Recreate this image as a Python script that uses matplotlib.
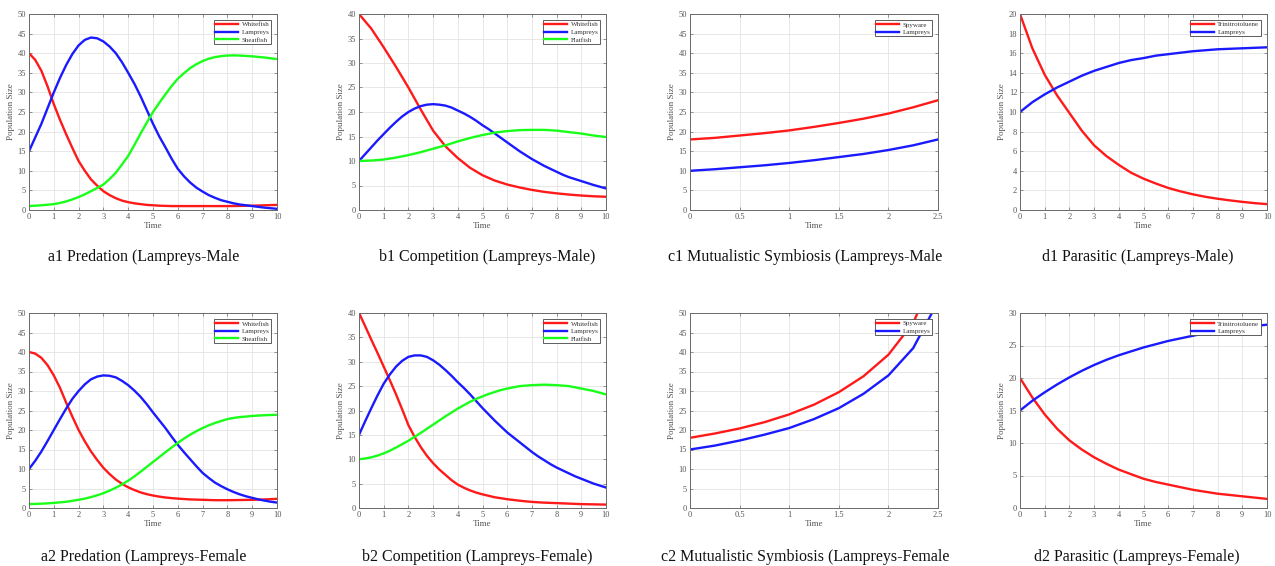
import numpy as np
import matplotlib
matplotlib.use("Agg")
import matplotlib.pyplot as plt

# ---- time grids ----
t_half = np.arange(0, 10.01, 0.5)
t_quarter = np.arange(0, 10.001, 0.25)
t_c = np.arange(0, 2.51, 0.25)

# ---- a1 Predation (male), sampled every 0.25 ----
a1_whitefish = [40, 38.3, 35.5, 31.5, 27, 23, 19.3, 15.8, 12.5, 10, 7.8, 6.2, 4.8, 3.8, 3.0, 2.4, 2.0,
                1.7, 1.5, 1.3, 1.2, 1.1, 1.05, 1.0, 1.0, 1.0, 1.0, 1.0, 1.0, 1.0, 1.0, 1.0, 1.0,
                1.02, 1.05, 1.08, 1.1, 1.15, 1.2, 1.25, 1.3]
a1_lampreys = [15, 18.5, 22, 26, 30, 33.7, 37, 39.8, 42, 43.4, 44, 43.8, 43, 41.7, 40, 37.7, 35,
               32.2, 29, 25.5, 22, 18.8, 16, 13.1, 10.5, 8.6, 7, 5.7, 4.7, 3.8, 3.1, 2.5, 2.1,
               1.7, 1.4, 1.2, 1.0, 0.8, 0.6, 0.45, 0.3]
a1_sheatfish = [1, 1.1, 1.2, 1.35, 1.5, 1.8, 2.2, 2.7, 3.3, 4.0, 4.8, 5.6, 6.5, 7.9, 9.5, 11.6, 13.8,
                16.6, 19.5, 22.3, 25, 27.3, 29.5, 31.6, 33.5, 34.9, 36.2, 37.2, 38, 38.6, 39, 39.25,
                39.4, 39.45, 39.4, 39.3, 39.2, 39.05, 38.9, 38.7, 38.5]

# ---- b1 Competition (male) ----
b1_whitefish = [40, 37, 33.2, 29.2, 25, 20.5, 16.2, 13, 10.6, 8.6, 7.1, 6.0, 5.2, 4.6, 4.1, 3.7, 3.4,
                3.15, 2.95, 2.8, 2.7]
b1_lampreys = [10, 11.4, 12.8, 14.2, 15.5, 16.8, 18, 19.1, 20, 20.7, 21.2, 21.5, 21.6, 21.5, 21.3,
               20.9, 20.3, 19.7, 19, 18.2, 17.3, 16.5, 15.6, 14.7, 13.8, 12.9, 12, 11.2, 10.4, 9.7,
               9, 8.4, 7.8, 7.2, 6.7, 6.3, 5.9, 5.5, 5.1, 4.75, 4.4]
b1_flatfish = [10, 10.1, 10.3, 10.7, 11.2, 11.8, 12.5, 13.2, 14, 14.7, 15.3, 15.8, 16.1, 16.3, 16.35,
               16.35, 16.2, 15.9, 15.6, 15.2, 14.9]

# ---- c1 Mutualistic symbiosis (male) ----
c1_spyware = [18, 18.4, 19, 19.6, 20.3, 21.2, 22.2, 23.3, 24.6, 26.2, 28]
c1_lampreys = [10, 10.4, 10.9, 11.4, 12, 12.7, 13.5, 14.3, 15.3, 16.5, 18]

# ---- d1 Parasitic (male) ----
d1_tnt = [20, 16.5, 13.8, 11.7, 9.9, 8.1, 6.6, 5.5, 4.6, 3.8, 3.2, 2.7, 2.25, 1.9, 1.6, 1.35, 1.15,
          0.98, 0.83, 0.7, 0.6]
d1_lampreys = [10, 11, 11.8, 12.5, 13.1, 13.7, 14.2, 14.6, 15.0, 15.3, 15.5, 15.75, 15.9, 16.05, 16.2,
               16.3, 16.4, 16.45, 16.5, 16.55, 16.6]

# ---- a2 Predation (female), sampled every 0.25 ----
a2_whitefish = [40, 39.6, 38.5, 36.6, 34, 30.8, 27, 23.4, 20, 17.1, 14.5, 12.3, 10.3, 8.7, 7.3, 6.2,
                5.3, 4.6, 4.0, 3.55, 3.2, 2.92, 2.7, 2.53, 2.4, 2.3, 2.2, 2.15, 2.1, 2.05, 2.0, 2.0,
                2.0, 2.02, 2.05, 2.07, 2.1, 2.15, 2.2, 2.27, 2.35]
a2_lampreys = [10, 12.1, 14.5, 17.2, 20, 22.8, 25.5, 28, 30, 31.7, 33, 33.7, 34, 33.9, 33.5, 32.6,
               31.5, 30.1, 28.5, 26.6, 24.5, 22.5, 20.5, 18.3, 16.2, 14.3, 12.5, 10.7, 9, 7.7, 6.5,
               5.6, 4.8, 4.1, 3.5, 3.0, 2.6, 2.2, 1.9, 1.6, 1.4]
a2_sheatfish = [1, 1.05, 1.1, 1.2, 1.3, 1.45, 1.6, 1.85, 2.1, 2.4, 2.8, 3.25, 3.8, 4.45, 5.2, 6.05,
                7, 8.1, 9.3, 10.55, 11.8, 13.05, 14.3, 15.5, 16.7, 17.8, 18.8, 19.7, 20.5, 21.2,
                21.8, 22.3, 22.8, 23.1, 23.3, 23.45, 23.6, 23.7, 23.8, 23.85, 23.9]

# ---- b2 Competition (female), sampled every 0.25 ----
b2_whitefish = [40, 37.3, 34.5, 31.8, 29, 26.2, 23.3, 20.2, 17, 14.6, 12.5, 10.7, 9.2, 7.9, 6.8,
                5.7, 4.8, 4.15, 3.6, 3.15, 2.8, 2.5, 2.2, 2.0, 1.8, 1.65, 1.5, 1.37, 1.25, 1.17,
                1.1, 1.05, 1.0, 0.95, 0.9, 0.85, 0.8, 0.77, 0.75, 0.72, 0.7]
b2_lampreys = [15, 17.8, 20.5, 23.1, 25.5, 27.4, 29, 30.2, 31, 31.3, 31.3, 31, 30.3, 29.4, 28.3,
               27.1, 25.8, 24.6, 23.3, 21.9, 20.5, 19.2, 17.9, 16.7, 15.5, 14.5, 13.5, 12.5, 11.5,
               10.6, 9.8, 9.0, 8.3, 7.7, 7.1, 6.5, 6.0, 5.5, 5.0, 4.6, 4.2]
b2_flatfish = [10, 10.15, 10.4, 10.75, 11.2, 11.75, 12.4, 13.1, 13.8, 14.6, 15.4, 16.25, 17.1, 17.95,
               18.8, 19.6, 20.4, 21.1, 21.8, 22.4, 22.9, 23.4, 23.8, 24.2, 24.5, 24.75, 25, 25.1,
               25.2, 25.25, 25.3, 25.25, 25.2, 25.1, 25, 24.75, 24.5, 24.25, 24, 23.65, 23.3]

# ---- c2 Mutualistic symbiosis (female) ----
c2_t_spyware = [0, 0.25, 0.5, 0.75, 1.0, 1.25, 1.5, 1.75, 2.0, 2.25, 2.32]
c2_spyware = [18, 19.1, 20.4, 22, 24, 26.5, 29.7, 33.8, 39.3, 47.5, 51.5]
c2_t_lampreys = [0, 0.25, 0.5, 0.75, 1.0, 1.25, 1.5, 1.75, 2.0, 2.25, 2.47]
c2_lampreys = [15, 16, 17.3, 18.8, 20.5, 22.8, 25.6, 29.3, 34, 41, 51.5]

# ---- d2 Parasitic (female) ----
d2_tnt = [20, 17, 14.4, 12.2, 10.4, 9.0, 7.8, 6.8, 5.9, 5.2, 4.5, 4.0, 3.6, 3.2, 2.8, 2.5, 2.2, 2.0,
          1.8, 1.6, 1.4]
d2_lampreys = [15, 16.5, 17.8, 19, 20.1, 21.1, 22, 22.8, 23.5, 24.1, 24.7, 25.2, 25.7, 26.1, 26.5,
               26.9, 27.2, 27.5, 27.8, 28, 28.2]

captions = [
    "a1 Predation (Lampreys-Male", "b1 Competition (Lampreys-Male)",
    "c1 Mutualistic Symbiosis (Lampreys-Male", "d1 Parasitic (Lampreys-Male)",
    "a2 Predation (Lampreys-Female", "b2 Competition (Lampreys-Female)",
    "c2 Mutualistic Symbiosis (Lampreys-Female", "d2 Parasitic (Lampreys-Female)",
]

RED, BLUE, GREEN = "#ff1a1a", "#1a1aff", "#1aff1a"
SERIF = ["Liberation Serif", "DejaVu Serif"]

W, H = 1275, 566
fig = plt.figure(figsize=(W / 100, H / 100), dpi=100)
fig.patch.set_facecolor("white")

col_x = [(29, 277), (359, 606), (690, 938), (1020, 1267)]
row_y = [(14, 210), (313, 508)]
cap_x = [[144, 487, 805, 1138], [144, 477, 805, 1137]]
cap_y = [257, 557]


def make_axes(r, c):
    x0, x1 = col_x[c]
    y0, y1 = row_y[r]
    return fig.add_axes([x0 / W, 1 - y1 / H, (x1 - x0) / W, (y1 - y0) / H])


def style(ax, xmax, ymax, xstep, ystep, xfmt=None):
    ax.set_xlim(0, xmax)
    ax.set_ylim(0, ymax)
    xt = np.arange(0, xmax + 1e-9, xstep)
    ax.set_xticks(xt)
    if xfmt:
        ax.set_xticklabels([xfmt(v) for v in xt])
    ax.set_yticks(np.arange(0, ymax + 1e-9, ystep))
    ax.grid(True, color="#e3e3e3", lw=0.6)
    ax.set_axisbelow(True)
    for s in ax.spines.values():
        s.set_color("#6a6a6a")
        s.set_linewidth(0.7)
    ax.tick_params(direction="in", length=2.5, width=0.5, colors="#6a6a6a",
                   labelsize=6, labelcolor="#555555", top=True, right=True, pad=2)
    for lab in ax.get_xticklabels() + ax.get_yticklabels():
        lab.set_family(SERIF)
    ax.set_xlabel("Time", fontsize=6.5, family=SERIF, color="#555555", labelpad=1)
    ax.set_ylabel("Population Size", fontsize=6.5, family=SERIF, color="#555555", labelpad=2)
    leg = ax.legend(loc="upper right", frameon=True, fancybox=False,
                    edgecolor="#444444", framealpha=1, handlelength=3.3,
                    borderpad=0.2, labelspacing=0.25, handletextpad=0.5,
                    borderaxespad=0.9, prop={"family": SERIF, "size": 5})
    leg.get_frame().set_linewidth(0.6)
    for txt in leg.get_texts():
        txt.set_color("#333333")


LW = 1.7
fmt_g = lambda v: "%g" % v

# a1
ax = make_axes(0, 0)
ax.plot(t_quarter, a1_whitefish, color=RED, lw=LW, label="Whitefish")
ax.plot(t_quarter, a1_lampreys, color=BLUE, lw=LW, label="Lampreys")
ax.plot(t_quarter, a1_sheatfish, color=GREEN, lw=LW, label="Sheatfish")
style(ax, 10, 50, 1, 5)

# b1
ax = make_axes(0, 1)
ax.plot(t_half, b1_whitefish, color=RED, lw=LW, label="Whitefish")
ax.plot(t_quarter, b1_lampreys, color=BLUE, lw=LW, label="Lampreys")
ax.plot(t_half, b1_flatfish, color=GREEN, lw=LW, label="Flatfish")
style(ax, 10, 40, 1, 5)

# c1
ax = make_axes(0, 2)
ax.plot(t_c, c1_spyware, color=RED, lw=LW, label="Spyware")
ax.plot(t_c, c1_lampreys, color=BLUE, lw=LW, label="Lampreys")
style(ax, 2.5, 50, 0.5, 5, fmt_g)

# d1
ax = make_axes(0, 3)
ax.plot(t_half, d1_tnt, color=RED, lw=LW, label="Trinitrotoluene")
ax.plot(t_half, d1_lampreys, color=BLUE, lw=LW, label="Lampreys")
style(ax, 10, 20, 1, 2)

# a2
ax = make_axes(1, 0)
ax.plot(t_quarter, a2_whitefish, color=RED, lw=LW, label="Whitefish")
ax.plot(t_quarter, a2_lampreys, color=BLUE, lw=LW, label="Lampreys")
ax.plot(t_quarter, a2_sheatfish, color=GREEN, lw=LW, label="Sheatfish")
style(ax, 10, 50, 1, 5)

# b2
ax = make_axes(1, 1)
ax.plot(t_quarter, b2_whitefish, color=RED, lw=LW, label="Whitefish")
ax.plot(t_quarter, b2_lampreys, color=BLUE, lw=LW, label="Lampreys")
ax.plot(t_quarter, b2_flatfish, color=GREEN, lw=LW, label="Flatfish")
style(ax, 10, 40, 1, 5)

# c2
ax = make_axes(1, 2)
ax.plot(c2_t_spyware, c2_spyware, color=RED, lw=LW, label="Spyware")
ax.plot(c2_t_lampreys, c2_lampreys, color=BLUE, lw=LW, label="Lampreys")
style(ax, 2.5, 50, 0.5, 5, fmt_g)

# d2
ax = make_axes(1, 3)
ax.plot(t_half, d2_tnt, color=RED, lw=LW, label="Trinitrotoluene")
ax.plot(t_half, d2_lampreys, color=BLUE, lw=LW, label="Lampreys")
style(ax, 10, 30, 1, 5)

# panel captions
for r in range(2):
    for c in range(4):
        fig.text(cap_x[r][c] / W, 1 - cap_y[r] / H, captions[r * 4 + c],
                 ha="center", va="center", fontsize=11.5, family=SERIF, color="#111111")

fig.savefig("out.png", dpi=100, facecolor="white")
